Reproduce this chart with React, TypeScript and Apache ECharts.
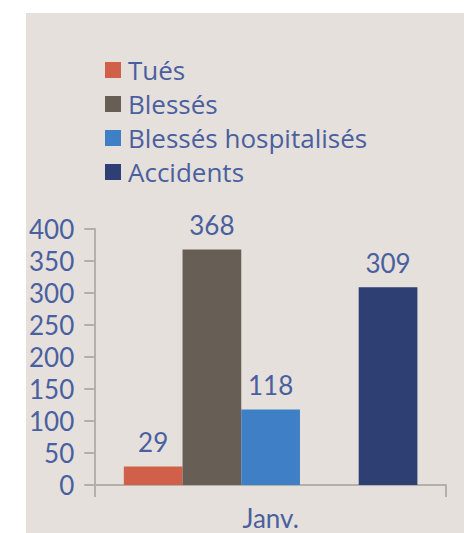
import React, { useEffect, useRef } from "react";
import * as echarts from "echarts";

const categories = ["Janv."];
const seriesNames = ["Tués", "Blessés", "Blessés hospitalisés", "", "Accidents"];
const tues = [29];
const blesses = [368];
const blessesHosp = [118];
const emptySlot: (number | null)[] = [null];
const accidents = [309];
const seriesColors = ["#d0604a", "#675f55", "#3f7fc5", "#000000", "#2e3f74"];

const TEXT = "#4a5f9f";
const AXIS = "#b3b0ab";
const FONT = "Lato";

export default function App() {
  const ref = useRef<HTMLDivElement>(null);
  useEffect(() => {
    if (!ref.current) return;
    const chart = echarts.init(ref.current, undefined, { renderer: "svg" });
    const values = [tues, blesses, blessesHosp, emptySlot, accidents];
    chart.setOption({
      animation: false,
      backgroundColor: "#e5e0db",
      legend: {
        orient: "vertical",
        left: 79,
        top: 44,
        padding: 0,
        icon: "rect",
        itemWidth: 16,
        itemHeight: 16,
        itemGap: 8,
        data: ["Tués", "Blessés", "Blessés hospitalisés", "Accidents"],
        textStyle: {
          color: TEXT,
          fontSize: 26,
          fontFamily: "Open Sans",
          lineHeight: 26,
          padding: [0, 0, 0, 2],
        },
      },
      grid: { left: 65, right: 18, top: 216, bottom: 48, containLabel: false },
      xAxis: {
        type: "category",
        data: categories,
        axisLine: { lineStyle: { color: AXIS, width: 2 } },
        axisTick: { show: true, alignWithLabel: false, length: 12, lineStyle: { color: AXIS, width: 2 } },
        axisLabel: { color: TEXT, fontSize: 26, fontFamily: FONT, margin: 20 },
      },
      yAxis: {
        type: "value",
        min: 0,
        max: 400,
        interval: 50,
        splitLine: { show: false },
        axisLine: { show: true, lineStyle: { color: AXIS, width: 2 } },
        axisTick: { show: true, length: 11, lineStyle: { color: AXIS, width: 2 } },
        axisLabel: { color: TEXT, fontSize: 26, fontFamily: FONT, margin: 21 },
      },
      series: seriesNames.map((name, i) => ({
        type: "bar",
        name,
        data: values[i],
        barGap: "0%",
        barCategoryGap: "16.3%",
        itemStyle: { color: seriesColors[i] },
        label: {
          show: true,
          position: "top",
          distance: 11,
          color: TEXT,
          fontSize: 26,
          fontFamily: FONT,
        },
      })),
    });
    return () => chart.dispose();
  }, []);
  return (
    <div style={{ position: "fixed", left: 0, top: 0, width: 464, height: 533, background: "#ffffff" }}>
      <div ref={ref} style={{ position: "absolute", left: 26, top: 13, width: 438, height: 520 }} />
    </div>
  );
}
